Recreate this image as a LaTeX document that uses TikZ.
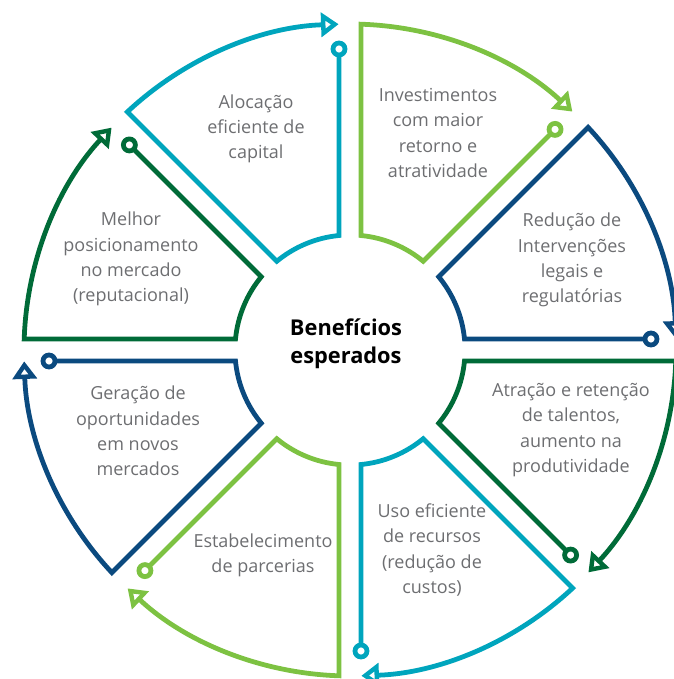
\documentclass[tikz,border=0pt]{standalone}
\usepackage{fontspec}
\setmainfont{Open Sans}
\usetikzlibrary{arrows.meta,calc}
\definecolor{cyanb}{HTML}{00A5BD}
\definecolor{lgreen}{HTML}{7DC242}
\definecolor{dblue}{HTML}{0B4A7F}
\definecolor{dgreen}{HTML}{006B38}
\definecolor{txtgray}{HTML}{6D6E71}

\tikzset{
  seg/.style={line width=3.4pt, -{Triangle[open,length=12.5pt,width=17pt]}},
  ring/.style={line width=3.4pt, fill=white},
  txt/.style={text=txtgray, align=center, font=\fontsize{12.8}{18}\selectfont},
}

\begin{document}
\begin{tikzpicture}[x=0.025cm,y=0.025cm]
    \useasboundingbox (-350,-329) rectangle (323,350);

    % eight segments, clockwise
    \foreach \a/\c/\n in {135/cyanb/aloc, 90/lgreen/inv, 45/dblue/red, 0/dgreen/atr,
                          -45/cyanb/uso, -90/lgreen/est, -135/dblue/ger, 180/dgreen/mel}{
        \pgfmathsetmacro{\b}{\a-45}
        \coordinate (\n-m) at ($(\b:301)+(\b+90:11)$);
        \draw[seg,\c] (\n-m) -- ($(\b:114.5)+(\b+90:11)$)
            arc[start angle=\b+5.49, end angle=\a-5.49, radius=115]
            -- ($(\a:325.8)+(\a-90:11)$)
            arc[start angle=\a-1.93, end angle=\b+2, radius=326];
        \draw[\c,ring] (\n-m) circle[radius=6];
    }

    \node[txt] (aloc) at (-94,221) {Alocação\\eficiente de\\capital};
    \node[txt] (inv) at (88,217) {Investimentos\\com maior\\retorno e\\atratividade};
    \node[txt] (red) at (222,90) {Redução de\\Intervenções\\legais e\\regulatórias};
    \node[txt] (atr) at (221,-80) {Atração e retenção\\de talentos,\\aumento na\\produtividade};
    \node[txt] (uso) at (82,-200) {Uso eficiente\\de recursos\\(redução de\\custos)};
    \node[txt] (est) at (-87,-205) {Estabelecimento\\de parcerias};
    \node[txt] (ger) at (-212,-81) {Geração de\\oportunidades\\em novos\\mercados};
    \node[txt] (mel) at (-219,91) {Melhor\\posicionamento\\no mercado\\(reputacional)};

    \node[align=center, font=\bfseries\fontsize{15.5}{20}\selectfont] (centre) at (-4,6) {Benefícios\\esperados};
\end{tikzpicture}
\end{document}
